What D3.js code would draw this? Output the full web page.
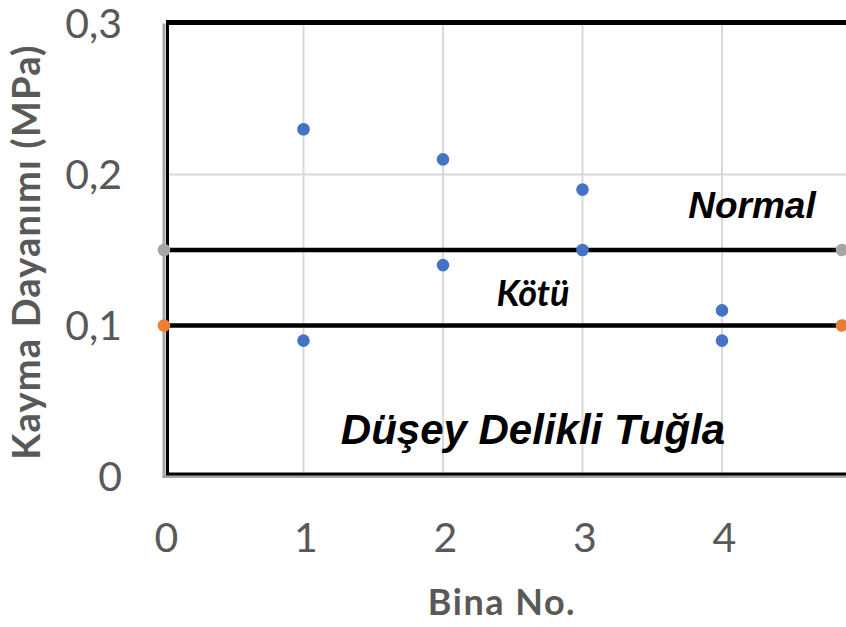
<!DOCTYPE html>
<html>
<head>
<meta charset="utf-8">
<script src="https://cdn.jsdelivr.net/npm/d3@7"></script>
<style>
  html, body { margin: 0; padding: 0; background: #fff; }
  svg { display: block; }
</style>
</head>
<body>
<svg id="chart" width="846" height="627"></svg>
<script>
// Building numbers and measured shear strengths (MPa)
const binaNo = [1, 1, 2, 2, 3, 3, 4, 4];
const kaymaDayanimi = [0.23, 0.09, 0.21, 0.14, 0.19, 0.15, 0.11, 0.09];

// Threshold lines: "Normal" limit and "Kötü" (poor) limit
const esikX = [0, 4.86];
const normalEsik = [0.15, 0.15];
const kotuEsik = [0.10, 0.10];

// Axis ticks
const xTicks = [0, 1, 2, 3, 4];
const yTicks = [0, 0.1, 0.2, 0.3];
const yTickLabels = ["0", "0,1", "0,2", "0,3"];

const svg = d3.select("#chart");
const W = 846, H = 627;

const x = d3.scaleLinear().domain([0, 5]).range([164, 861.5]);
const y = d3.scaleLinear().domain([0, 0.3]).range([476.5, 23.5]);

const gridColor = "#d9d9d9";
const axisColor = "#a6a6a6";
const textGrey = "#595959";
const sans = "Lato, 'Open Sans', sans-serif";
const arial = "'Liberation Sans', Arial, sans-serif";

// Gridlines
svg.append("g")
  .selectAll("line")
  .data([1, 2, 3, 4])
  .join("line")
  .attr("x1", d => x(d)).attr("x2", d => x(d))
  .attr("y1", y(0.3)).attr("y2", y(0))
  .attr("stroke", gridColor).attr("stroke-width", 2);

svg.append("g")
  .selectAll("line")
  .data([0.1, 0.2])
  .join("line")
  .attr("x1", x(0)).attr("x2", W)
  .attr("y1", d => y(d)).attr("y2", d => y(d))
  .attr("stroke", gridColor).attr("stroke-width", 2);

// Axis lines
svg.append("line")
  .attr("x1", x(0)).attr("x2", x(0))
  .attr("y1", y(0.3)).attr("y2", y(0) + 1.5)
  .attr("stroke", axisColor).attr("stroke-width", 3);
svg.append("line")
  .attr("x1", x(0) - 1.5).attr("x2", W)
  .attr("y1", y(0)).attr("y2", y(0))
  .attr("stroke", axisColor).attr("stroke-width", 3);

// Black frame around the plot area
svg.append("line")
  .attr("x1", x(0) + 3.5).attr("x2", x(0) + 3.5)
  .attr("y1", y(0.3)).attr("y2", y(0) - 2.5)
  .attr("stroke", "#000").attr("stroke-width", 3);
svg.append("line")
  .attr("x1", x(0) + 2).attr("x2", W)
  .attr("y1", y(0) - 2.5).attr("y2", y(0) - 2.5)
  .attr("stroke", "#000").attr("stroke-width", 3);
svg.append("line")
  .attr("x1", x(0) + 2).attr("x2", W)
  .attr("y1", y(0.3) - 1).attr("y2", y(0.3) - 1)
  .attr("stroke", "#000").attr("stroke-width", 5);

// Threshold lines with end markers
const line = d3.line().x(d => x(d[0])).y(d => y(d[1]));
function threshold(vals, color) {
  const pts = esikX.map((v, i) => [v, vals[i]]);
  svg.append("path")
    .attr("d", line(pts))
    .attr("fill", "none").attr("stroke", "#000").attr("stroke-width", 4.5);
  svg.append("g").selectAll("circle")
    .data(pts).join("circle")
    .attr("cx", d => x(d[0])).attr("cy", d => y(d[1]))
    .attr("r", 6.3).attr("fill", color);
}
threshold(normalEsik, "#a5a5a5");
threshold(kotuEsik, "#ed7d31");

// Measured points
svg.append("g").selectAll("circle")
  .data(binaNo.map((b, i) => [b, kaymaDayanimi[i]]))
  .join("circle")
  .attr("cx", d => x(d[0])).attr("cy", d => y(d[1]))
  .attr("r", 6.3).attr("fill", "#4472c4");

// Tick labels
const xAxis = d3.axisBottom(x).tickValues(xTicks)
  .tickFormat(d3.format("d")).tickSize(0).tickPadding(0);
const gx = svg.append("g").attr("transform", `translate(2,${y(0) + 75})`).call(xAxis);
gx.select(".domain").remove();
gx.selectAll("text")
  .attr("dy", 0).attr("y", 0)
  .attr("fill", textGrey)
  .style("font-family", sans)
  .style("font-size", "41px");

const yAxis = d3.axisLeft(y).tickValues(yTicks)
  .tickFormat((d, i) => yTickLabels[i]).tickSize(0).tickPadding(0);
const gy = svg.append("g").attr("transform", `translate(122,0)`).call(yAxis);
gy.select(".domain").remove();
gy.selectAll("text")
  .attr("dy", 0).attr("x", 0).attr("y", 14)
  .attr("fill", textGrey)
  .style("font-family", sans)
  .style("font-size", "41px");

// Axis titles
svg.append("text")
  .attr("x", 502).attr("y", 615)
  .attr("text-anchor", "middle")
  .attr("fill", textGrey)
  .style("font-family", sans)
  .style("font-weight", "bold")
  .style("font-size", "36px")
  .style("letter-spacing", "1.5px")
  .text("Bina No.");

svg.append("text")
  .attr("transform", "translate(40,252) rotate(-90)")
  .attr("text-anchor", "middle")
  .attr("fill", textGrey)
  .style("font-family", sans)
  .style("font-weight", "bold")
  .style("font-size", "38px")
  .style("letter-spacing", "1.2px")
  .text("Kayma Dayanımı (MPa)");

// Annotations
svg.append("text")
  .attr("x", 752).attr("y", 218)
  .attr("text-anchor", "middle")
  .style("font-family", arial)
  .style("font-weight", "bold").style("font-style", "italic")
  .style("font-size", "37px")
  .text("Normal");

svg.append("text")
  .attr("x", 533).attr("y", 306)
  .attr("text-anchor", "middle")
  .style("font-family", sans)
  .style("font-weight", "bold").style("font-style", "italic")
  .style("font-size", "36px")
  .text("Kötü");

svg.append("text")
  .attr("x", 533).attr("y", 444)
  .attr("text-anchor", "middle")
  .style("font-family", arial)
  .style("font-weight", "bold").style("font-style", "italic")
  .style("font-size", "42px")
  .text("Düşey Delikli Tuğla");
</script>
</body>
</html>
